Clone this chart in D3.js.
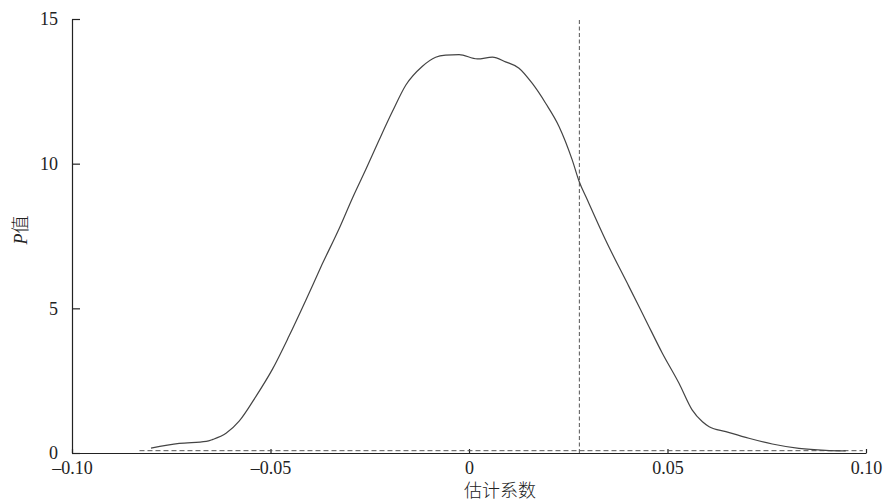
<!DOCTYPE html>
<html>
<head>
<meta charset="utf-8">
<script src="https://cdn.jsdelivr.net/npm/d3@7"></script>
<style>
  html, body { margin: 0; padding: 0; background: #fff; }
  svg { display: block; }
</style>
</head>
<body>
<svg id="chart" width="883" height="501"></svg>
<script>
// Estimated coefficient (x) and density (y)
const coefX = [-0.0801, -0.0730, -0.0662, -0.0645, -0.0612, -0.0579, -0.0537, -0.0495, -0.0453, -0.0411,
  -0.0370, -0.0327, -0.0294, -0.0260, -0.0227, -0.0193, -0.0159, -0.0118, -0.0084, -0.0059,
  -0.0025, 0.0021, 0.0059, 0.0092, 0.0126, 0.0159, 0.0193, 0.0227, 0.0260, 0.0277,
  0.0298, 0.0344, 0.0403, 0.0445, 0.0487, 0.0529, 0.0562, 0.0588, 0.0605, 0.0647,
  0.0705, 0.0764, 0.0831, 0.0898, 0.0949];
const density = [0.17, 0.33, 0.40, 0.47, 0.68, 1.10, 1.95, 2.90, 4.05, 5.28,
  6.52, 7.76, 8.80, 9.80, 10.80, 11.80, 12.72, 13.36, 13.68, 13.75,
  13.77, 13.62, 13.68, 13.52, 13.30, 12.78, 12.09, 11.28, 10.13, 9.40,
  8.75, 7.36, 5.75, 4.60, 3.45, 2.41, 1.49, 1.08, 0.91, 0.74,
  0.51, 0.31, 0.16, 0.09, 0.07];
const xTicks = [-0.10, -0.05, 0, 0.05, 0.10];
const xTickLabels = ["\u20130.10", "\u20130.05", "0", "0.05", "0.10"];
const yTicks = [0, 5, 10, 15];
const vLineX = 0.0278;
const hLineY = 0.08;
const hLineRange = [-0.083, 0.0992];
const xTitle = "估计系数";
const yTitle = "值";

const SERIF = "'Liberation Serif', 'Times New Roman', serif";
const CJK = "'Noto Sans CJK SC', sans-serif";

const svg = d3.select("#chart");
const x = d3.scaleLinear().domain([-0.1, 0.1]).range([72, 866]);
const y = d3.scaleLinear().domain([0, 15]).range([453, 19]);

// axes
const xAxis = d3.axisBottom(x).tickValues(xTicks)
  .tickFormat((d, i) => xTickLabels[i])
  .tickSizeInner(-4).tickSizeOuter(0).tickPadding(8);
const gx = svg.append("g").attr("transform", `translate(0,${y(0)})`).call(xAxis);

const yAxis = d3.axisLeft(y).tickValues(yTicks)
  .tickSizeInner(-8).tickSizeOuter(0).tickPadding(14);
const gy = svg.append("g").attr("transform", `translate(${x(-0.1)},0)`).call(yAxis);

[gx, gy].forEach(g => {
  g.attr("font-family", null).attr("font-size", null);
  g.selectAll("text").style("font-family", SERIF).style("font-size", "18px").attr("fill", "#222");
  g.select(".domain").attr("stroke", "#222").attr("stroke-width", 1.2);
  g.selectAll(".tick line").attr("stroke", "#222").attr("stroke-width", 1.2);
});

// dashed reference lines
svg.append("line")
  .attr("x1", x(hLineRange[0])).attr("x2", x(hLineRange[1]))
  .attr("y1", y(hLineY)).attr("y2", y(hLineY))
  .attr("stroke", "#555").attr("stroke-width", 1).attr("stroke-dasharray", "5,3");
svg.append("line")
  .attr("x1", x(vLineX)).attr("x2", x(vLineX))
  .attr("y1", y(0)).attr("y2", y(15.05))
  .attr("stroke", "#555").attr("stroke-width", 1).attr("stroke-dasharray", "4,2.5");

// density curve
const pts = coefX.map((v, i) => [v, density[i]]);
svg.append("path")
  .datum(pts)
  .attr("fill", "none")
  .attr("stroke", "#444")
  .attr("stroke-width", 1.2)
  .attr("d", d3.line().x(d => x(d[0])).y(d => y(d[1])).curve(d3.curveMonotoneX));

// axis titles
svg.append("text")
  .attr("x", 500).attr("y", 497)
  .attr("text-anchor", "middle")
  .style("font-family", CJK)
  .style("font-size", "18px").style("font-weight", 300)
  .attr("fill", "#222")
  .text(xTitle);

const yt = svg.append("text")
  .attr("transform", "translate(27,230) rotate(-90)")
  .attr("text-anchor", "middle")
  .attr("fill", "#222")
  .style("font-family", SERIF)
  .style("font-size", "18px");
yt.append("tspan").style("font-style", "italic").text("P");
yt.append("tspan").style("font-family", CJK).style("font-weight", 300).text(yTitle);
</script>
</body>
</html>
